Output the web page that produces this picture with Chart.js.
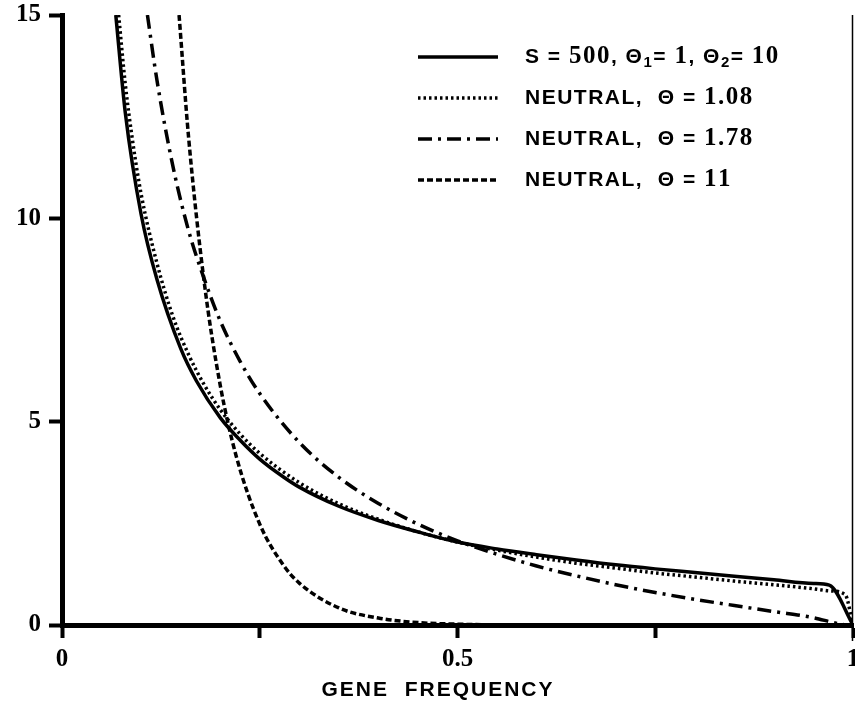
<!DOCTYPE html>
<html>
<head>
<meta charset="utf-8">
<script src="https://cdn.jsdelivr.net/npm/chart.js@4/dist/chart.umd.min.js"></script>
<style>
  html, body { margin: 0; padding: 0; background: #fff; }
  #wrap { width: 855px; height: 706px; }
</style>
</head>
<body>
<div id="wrap"><canvas id="freq-chart" width="855" height="706"></canvas></div>
<script>
// values
const xTicks = [0, 0.25, 0.5, 0.75, 1];
const xTickLabels = ['0', '', '0.5', '', '1'];
const yTicks = [0, 5, 10, 15];

const xSel = [0.068, 0.08, 0.1, 0.12, 0.15, 0.17, 0.2, 0.225, 0.25, 0.28, 0.3, 0.35, 0.4, 0.45, 0.5, 0.55, 0.6, 0.65, 0.7, 0.75, 0.8, 0.85, 0.9, 0.95, 0.97, 1.0];
const ySel = [15, 12.6, 10.1, 8.5, 6.8, 6.0, 5.1, 4.55, 4.08, 3.64, 3.39, 2.92, 2.57, 2.29, 2.04, 1.87, 1.73, 1.6, 1.48, 1.38, 1.29, 1.2, 1.11, 1.02, 0.98, 0.0];

const xN108 = [0.0716, 0.08, 0.09, 0.1, 0.12, 0.14, 0.16, 0.18, 0.2, 0.225, 0.25, 0.3, 0.35, 0.4, 0.45, 0.5, 0.55, 0.6, 0.65, 0.7, 0.75, 0.8, 0.85, 0.9, 0.95, 0.97, 0.99, 1.0];
const yN108 = [15, 13.3, 11.8, 10.6, 8.9, 7.6, 6.65, 5.9, 5.3, 4.7, 4.22, 3.5, 2.98, 2.6, 2.29, 2.04, 1.84, 1.67, 1.52, 1.4, 1.28, 1.18, 1.08, 0.99, 0.89, 0.84, 0.75, 0.0];

const xN178 = [0.108, 0.12, 0.14, 0.16, 0.18, 0.2, 0.225, 0.25, 0.3, 0.35, 0.4, 0.45, 0.5, 0.55, 0.6, 0.65, 0.7, 0.75, 0.8, 0.85, 0.9, 0.95, 0.975, 0.99];
const yN178 = [15, 13.4, 11.3, 9.7, 8.5, 7.48, 6.49, 5.69, 4.49, 3.63, 2.99, 2.48, 2.07, 1.74, 1.45, 1.21, 0.99, 0.8, 0.63, 0.48, 0.33, 0.18, 0.06, 0.0];

const xN11 = [0.148, 0.16, 0.18, 0.2, 0.22, 0.25, 0.28, 0.3, 0.35, 0.4, 0.45, 0.5, 0.6, 0.8, 1.0];
const yN11 = [15, 12.0, 8.4, 5.9, 4.17, 2.48, 1.47, 1.03, 0.42, 0.17, 0.06, 0.02, 0.0, 0.0, 0.0];

const seriesLabels = ['S = 500, Θ₁= 1, Θ₂= 10', 'NEUTRAL,  Θ = 1.08', 'NEUTRAL,  Θ = 1.78', 'NEUTRAL,  Θ = 11'];
const axisTitle = 'GENE  FREQUENCY';

const SERIF = 'bold 25px "Liberation Serif", "DejaVu Serif", serif';
const SANS = 'bold 21px "Liberation Sans", Arial, sans-serif';

function pts(xs, ys) {
  return xs.map((x, i) => ({ x: x, y: ys[i] }));
}

const styles = [
  { width: 3.5, dash: [] },
  { width: 3.5, dash: [2.5, 3] },
  { width: 3.5, dash: [14, 6, 3, 6] },
  { width: 3.5, dash: [6, 3] }
];

const datasets = [[xSel, ySel], [xN108, yN108], [xN178, yN178], [xN11, yN11]].map((s, i) => ({
  label: seriesLabels[i],
  data: pts(s[0], s[1]),
  borderColor: '#000',
  borderWidth: styles[i].width,
  borderDash: styles[i].dash,
  pointRadius: 0,
  fill: false,
  cubicInterpolationMode: 'monotone'
}));

// legend with mixed fonts: digits serif, the rest sans
function drawLabel(ctx, text, x, y) {
  let cx = x;
  for (const ch of text) {
    let font = SANS, dy = 0, c = ch;
    if (ch === '₁' || ch === '₂') {
      c = ch === '₁' ? '1' : '2';
      font = 'bold 15px "Liberation Sans", Arial, sans-serif';
      dy = 6;
    } else if (/[0-9.]/.test(ch)) {
      font = SERIF;
    }
    ctx.font = font;
    ctx.fillText(c, cx, y + dy);
    cx += ctx.measureText(c).width + 1.5;
  }
}

const paperPlugin = {
  id: 'paper',
  afterDraw(chart) {
    const ctx = chart.ctx;
    const a = chart.chartArea;
    ctx.save();
    // thin right frame line
    ctx.strokeStyle = '#000';
    ctx.lineWidth = 1.5;
    ctx.beginPath();
    ctx.moveTo(a.right - 0.5, a.top);
    ctx.lineTo(a.right - 0.5, a.bottom + 16);
    ctx.stroke();

    // legend
    const rows = [57, 98, 139, 180];
    ctx.fillStyle = '#000';
    ctx.textBaseline = 'middle';
    ctx.textAlign = 'left';
    rows.forEach((ry, i) => {
      ctx.lineWidth = styles[i].width;
      ctx.setLineDash(styles[i].dash);
      ctx.beginPath();
      ctx.moveTo(418, ry);
      ctx.lineTo(498, ry);
      ctx.stroke();
      ctx.setLineDash([]);
      drawLabel(ctx, seriesLabels[i], 525, ry);
    });

    // x axis title, letter spaced
    ctx.font = 'bold 21px "Liberation Sans", Arial, sans-serif';
    ctx.letterSpacing = '2px';
    ctx.textAlign = 'center';
    ctx.fillText(axisTitle, 438, 690);
    ctx.letterSpacing = '0px';
    ctx.restore();
  }
};

window.addEventListener('load', () => {
  const ctx = document.getElementById('freq-chart').getContext('2d');
  new Chart(ctx, {
    type: 'line',
    data: { datasets: datasets },
    plugins: [paperPlugin],
    options: {
      responsive: false,
      animation: false,
      layout: { padding: { top: 15, right: 2, left: 0, bottom: 0 } },
      plugins: { legend: { display: false }, tooltip: { enabled: false } },
      scales: {
        x: {
          type: 'linear',
          min: 0,
          max: 1,
          afterBuildTicks: s => { s.ticks = xTicks.map(v => ({ value: v })); },
          afterFit: s => { s.height = 81; s.paddingLeft = 0; s.paddingRight = 0; },
          ticks: {
            color: '#000',
            font: { family: '"Liberation Serif", serif', size: 25, weight: 'bold' },
            padding: 7,
            maxRotation: 0,
            autoSkip: false,
            callback: (v, i) => xTickLabels[i]
          },
          grid: { drawOnChartArea: false, drawTicks: true, tickLength: 13, tickWidth: 4, tickColor: '#000' },
          border: { display: true, width: 5, color: '#000' }
        },
        y: {
          type: 'linear',
          min: 0,
          max: 15,
          afterBuildTicks: s => { s.ticks = yTicks.map(v => ({ value: v })); },
          afterFit: s => { s.width = 62; s.paddingTop = 0; s.paddingBottom = 0; },
          ticks: {
            color: '#000',
            font: { family: '"Liberation Serif", serif', size: 25, weight: 'bold' },
            padding: 8,
            callback: v => String(v)
          },
          grid: { drawOnChartArea: false, drawTicks: true, tickLength: 13, tickWidth: 4, tickColor: '#000' },
          border: { display: true, width: 5, color: '#000' }
        }
      }
    }
  });
});
</script>
</body>
</html>
